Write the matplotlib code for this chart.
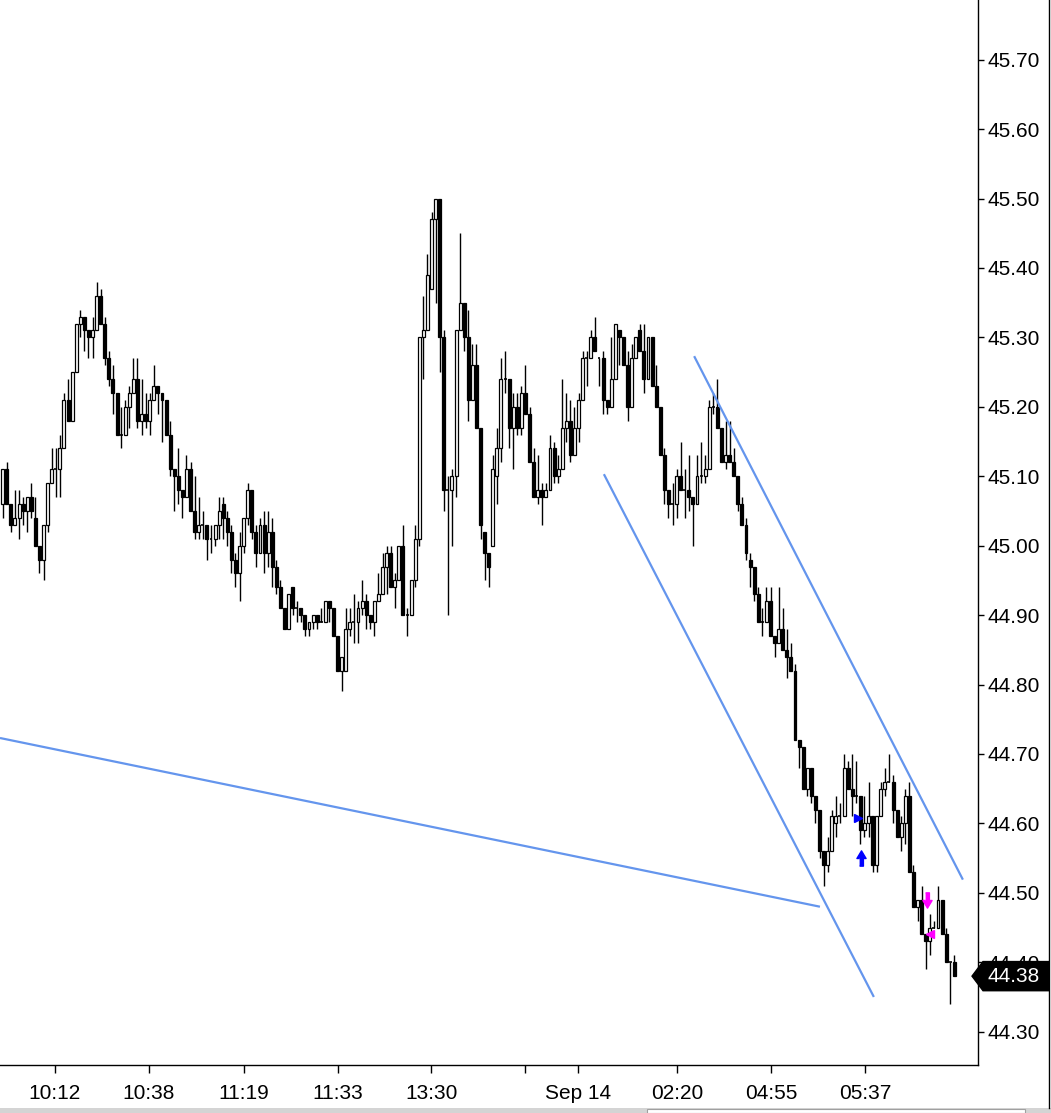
import numpy as np
import matplotlib.pyplot as plt
from matplotlib.patches import Polygon, Rectangle
from matplotlib.lines import Line2D
import matplotlib.transforms as mtransforms

plt.rcParams['font.family'] = ['Liberation Sans', 'DejaVu Sans']

# OHLC of every candle (candle 1 is the leftmost)
opens = [45.06, 45.11, 45.06, 45.03, 45.04, 45.06, 45.05, 45.07, 45.04, 45.00,
         44.98, 45.03, 45.09, 45.11, 45.11, 45.14, 45.21, 45.18, 45.25, 45.32,
         45.33, 45.31, 45.30, 45.31, 45.36, 45.32, 45.27, 45.24, 45.22, 45.16,
         45.16, 45.20, 45.22, 45.24, 45.18, 45.19, 45.18, 45.21, 45.23, 45.22,
         45.21, 45.16, 45.11, 45.10, 45.08, 45.07, 45.11, 45.05, 45.02, 45.03,
         45.03, 45.01, 45.01, 45.03, 45.06, 45.04, 45.02, 44.98, 44.96, 45.00,
         45.04, 45.08, 45.02, 44.99, 45.03, 44.99, 45.02, 44.97, 44.94, 44.91,
         44.88, 44.94, 44.91, 44.91, 44.90, 44.88, 44.89, 44.90, 44.89, 44.89,
         44.92, 44.91, 44.87, 44.82, 44.82, 44.88, 44.89, 44.89, 44.91, 44.92,
         44.90, 44.89, 44.92, 44.93, 44.97, 44.99, 44.94, 44.95, 45.00, 44.90,
         44.90, 44.95, 45.01, 45.30, 45.31, 45.37, 45.47, 45.50, 45.30, 45.08,
         45.08, 45.10, 45.31, 45.35, 45.30, 45.21, 45.26, 45.17, 45.02, 44.99,
         45.00, 45.10, 45.14, 45.24, 45.24, 45.17, 45.20, 45.17, 45.22, 45.19,
         45.12, 45.07, 45.08, 45.07, 45.08, 45.14, 45.10, 45.11, 45.17, 45.18,
         45.13, 45.17, 45.21, 45.27, 45.27, 45.30, 45.27, 45.27, 45.21, 45.20,
         45.24, 45.31, 45.30, 45.26, 45.20, 45.27, 45.31, 45.28, 45.24, 45.30,
         45.23, 45.20, 45.13, 45.08, 45.06, 45.06, 45.10, 45.08, 45.08, 45.07,
         45.06, 45.10, 45.10, 45.11, 45.20, 45.20, 45.17, 45.12, 45.13, 45.12,
         45.10, 45.06, 45.03, 44.98, 44.97, 44.93, 44.89, 44.89, 44.92, 44.87,
         44.86, 44.88, 44.85, 44.84, 44.82, 44.72, 44.71, 44.65, 44.68, 44.64,
         44.62, 44.56, 44.54, 44.56, 44.60, 44.61, 44.61, 44.68, 44.65, 44.64,
         44.64, 44.59, 44.60, 44.61, 44.54, 44.61, 44.65, 44.66, 44.66, 44.62,
         44.58, 44.60, 44.64, 44.53, 44.48, 44.49, 44.44, 44.43, 44.45, 44.45,
         44.49, 44.44, 44.40, 44.40]
highs = [45.11, 45.12, 45.06, 45.08, 45.08, 45.07, 45.07, 45.09, 45.07, 45.00,
         45.03, 45.09, 45.14, 45.14, 45.16, 45.22, 45.24, 45.25, 45.32, 45.34,
         45.33, 45.31, 45.33, 45.38, 45.37, 45.33, 45.28, 45.26, 45.22, 45.20,
         45.21, 45.23, 45.27, 45.27, 45.24, 45.22, 45.22, 45.26, 45.23, 45.22,
         45.21, 45.18, 45.11, 45.14, 45.08, 45.13, 45.12, 45.10, 45.07, 45.05,
         45.03, 45.03, 45.03, 45.07, 45.07, 45.05, 45.03, 44.99, 45.02, 45.04,
         45.09, 45.08, 45.03, 45.04, 45.05, 45.05, 45.04, 44.98, 44.95, 44.91,
         44.93, 44.94, 44.92, 44.91, 44.90, 44.89, 44.90, 44.90, 44.91, 44.92,
         44.92, 44.91, 44.87, 44.84, 44.91, 44.91, 44.93, 44.92, 44.95, 44.93,
         44.90, 44.92, 44.96, 44.99, 45.00, 45.00, 44.96, 45.00, 45.03, 44.91,
         44.95, 45.03, 45.30, 45.36, 45.42, 45.48, 45.50, 45.50, 45.31, 45.10,
         45.11, 45.31, 45.45, 45.35, 45.34, 45.29, 45.29, 45.17, 45.02, 44.99,
         45.13, 45.17, 45.27, 45.28, 45.24, 45.22, 45.22, 45.23, 45.26, 45.20,
         45.14, 45.13, 45.09, 45.09, 45.16, 45.15, 45.13, 45.24, 45.22, 45.21,
         45.20, 45.22, 45.28, 45.28, 45.31, 45.33, 45.27, 45.28, 45.21, 45.30,
         45.32, 45.31, 45.30, 45.28, 45.29, 45.30, 45.32, 45.32, 45.30, 45.30,
         45.26, 45.20, 45.14, 45.08, 45.09, 45.11, 45.15, 45.11, 45.13, 45.07,
         45.13, 45.15, 45.13, 45.21, 45.22, 45.24, 45.17, 45.18, 45.18, 45.14,
         45.10, 45.07, 45.04, 44.99, 44.97, 44.94, 44.91, 44.94, 44.94, 44.87,
         44.94, 44.91, 44.88, 44.86, 44.83, 44.72, 44.71, 44.68, 44.68, 44.64,
         44.62, 44.56, 44.58, 44.62, 44.64, 44.63, 44.70, 44.69, 44.70, 44.69,
         44.64, 44.64, 44.66, 44.61, 44.61, 44.66, 44.68, 44.70, 44.67, 44.62,
         44.61, 44.65, 44.66, 44.54, 44.49, 44.51, 44.44, 44.47, 44.46, 44.51,
         44.49, 44.45, 44.40, 44.41]
lows = [45.04, 45.06, 45.02, 45.03, 45.01, 45.03, 45.02, 45.04, 45.00, 44.96,
        44.95, 45.02, 45.09, 45.07, 45.07, 45.14, 45.18, 45.18, 45.25, 45.30,
        45.28, 45.27, 45.27, 45.31, 45.32, 45.26, 45.23, 45.19, 45.16, 45.14,
        45.16, 45.17, 45.22, 45.17, 45.16, 45.17, 45.16, 45.21, 45.19, 45.15,
        45.16, 45.10, 45.05, 45.06, 45.04, 45.07, 45.05, 45.01, 45.01, 45.01,
        44.98, 44.99, 45.00, 45.01, 45.01, 45.00, 44.96, 44.94, 44.92, 44.99,
        45.03, 45.01, 44.97, 44.99, 44.96, 44.97, 44.94, 44.93, 44.91, 44.88,
        44.88, 44.90, 44.89, 44.89, 44.87, 44.87, 44.88, 44.88, 44.89, 44.89,
        44.89, 44.87, 44.82, 44.79, 44.82, 44.87, 44.86, 44.86, 44.90, 44.88,
        44.88, 44.87, 44.92, 44.93, 44.93, 44.94, 44.91, 44.95, 44.90, 44.87,
        44.90, 44.94, 45.00, 45.24, 45.31, 45.37, 45.35, 45.25, 45.05, 44.90,
        45.00, 45.07, 45.31, 45.28, 45.18, 45.21, 45.17, 45.01, 44.95, 44.94,
        45.00, 45.06, 45.12, 45.22, 45.14, 45.11, 45.16, 45.16, 45.19, 45.12,
        45.07, 45.06, 45.03, 45.07, 45.08, 45.09, 45.09, 45.11, 45.15, 45.12,
        45.13, 45.15, 45.21, 45.23, 45.27, 45.28, 45.23, 45.19, 45.19, 45.20,
        45.24, 45.26, 45.26, 45.18, 45.20, 45.27, 45.28, 45.22, 45.24, 45.23,
        45.20, 45.13, 45.06, 45.04, 45.03, 45.04, 45.08, 45.04, 45.05, 45.00,
        45.06, 45.09, 45.09, 45.11, 45.19, 45.17, 45.12, 45.11, 45.12, 45.10,
        45.05, 45.03, 44.98, 44.94, 44.92, 44.89, 44.87, 44.89, 44.87, 44.84,
        44.86, 44.85, 44.81, 44.82, 44.72, 44.68, 44.65, 44.64, 44.63, 44.60,
        44.55, 44.51, 44.53, 44.56, 44.58, 44.60, 44.61, 44.65, 44.61, 44.63,
        44.57, 44.58, 44.58, 44.53, 44.53, 44.61, 44.64, 44.66, 44.60, 44.58,
        44.56, 44.57, 44.53, 44.48, 44.46, 44.44, 44.39, 44.41, 44.45, 44.45,
        44.44, 44.40, 44.34, 44.38]
closes = [45.11, 45.06, 45.03, 45.04, 45.06, 45.05, 45.07, 45.05, 45.00, 44.98,
          45.03, 45.09, 45.11, 45.11, 45.14, 45.21, 45.18, 45.25, 45.32, 45.33,
          45.31, 45.30, 45.31, 45.36, 45.32, 45.27, 45.24, 45.22, 45.16, 45.16,
          45.20, 45.22, 45.24, 45.18, 45.19, 45.18, 45.21, 45.23, 45.22, 45.21,
          45.16, 45.11, 45.10, 45.08, 45.07, 45.11, 45.05, 45.02, 45.03, 45.03,
          45.01, 45.01, 45.03, 45.05, 45.04, 45.02, 44.98, 44.96, 45.00, 45.04,
          45.08, 45.02, 44.99, 45.03, 44.99, 45.02, 44.97, 44.94, 44.91, 44.88,
          44.93, 44.91, 44.91, 44.90, 44.88, 44.89, 44.90, 44.89, 44.89, 44.92,
          44.91, 44.87, 44.82, 44.84, 44.88, 44.89, 44.89, 44.91, 44.92, 44.90,
          44.89, 44.92, 44.93, 44.97, 44.99, 44.94, 44.95, 45.00, 44.90, 44.90,
          44.95, 45.01, 45.30, 45.31, 45.39, 45.47, 45.50, 45.30, 45.08, 45.08,
          45.10, 45.31, 45.35, 45.30, 45.21, 45.26, 45.17, 45.03, 44.99, 44.97,
          45.11, 45.14, 45.24, 45.24, 45.17, 45.20, 45.17, 45.22, 45.19, 45.12,
          45.07, 45.08, 45.07, 45.08, 45.14, 45.10, 45.11, 45.17, 45.18, 45.13,
          45.17, 45.21, 45.27, 45.27, 45.30, 45.28, 45.27, 45.21, 45.20, 45.24,
          45.32, 45.30, 45.26, 45.20, 45.27, 45.30, 45.28, 45.24, 45.30, 45.23,
          45.20, 45.13, 45.08, 45.06, 45.06, 45.10, 45.08, 45.08, 45.07, 45.06,
          45.10, 45.10, 45.11, 45.20, 45.20, 45.17, 45.12, 45.13, 45.12, 45.10,
          45.06, 45.03, 44.99, 44.97, 44.93, 44.89, 44.89, 44.92, 44.87, 44.86,
          44.88, 44.85, 44.84, 44.82, 44.72, 44.71, 44.65, 44.68, 44.64, 44.62,
          44.56, 44.54, 44.56, 44.61, 44.61, 44.61, 44.68, 44.65, 44.64, 44.64,
          44.59, 44.60, 44.61, 44.54, 44.61, 44.65, 44.66, 44.66, 44.62, 44.58,
          44.60, 44.64, 44.53, 44.48, 44.49, 44.44, 44.43, 44.45, 44.45, 44.49,
          44.44, 44.40, 44.40, 44.38]

# time labels and the candle they sit under
tick_pos = [13.8, 36.8, 60.0, 83.0, 105.9, 128.9, 141.9, 166.1, 189.1, 212.1]
tick_labels = ['10:12', '10:38', '11:19', '11:33', '13:30', '', 'Sep 14',
               '02:20', '04:55', '05:37']

# hand drawn trend lines: candle position and price at both ends
line_x = [[0.34, 201.1], [148.2, 214.3], [170.3, 236.1]]
line_y = [[44.723, 44.480], [45.103, 44.350], [45.273, 44.519]]

# signal markers
buy_arrow = (211.1, 44.55)
buy_tri = (210.5, 44.608)
sell_arrow = (227.3, 44.49)
sell_tri = (228.0, 44.44)

o = np.array(opens)
h = np.array(highs)
l = np.array(lows)
c = np.array(closes)
x = np.arange(1, len(o) + 1)

W, H = 1051, 1113
fig = plt.figure(figsize=(W / 100, H / 100), dpi=100)
ax = fig.add_axes([0, 48 / H, 978 / W, 1065 / H])

bw = 0.72
# wicks
ax.vlines(x, l, h, color='black', lw=1.0, zorder=2)

up = c > o
down = c < o
flat = c == o
ax.bar(x[up], (c - o)[up], bottom=o[up], width=bw, facecolor='white',
       edgecolor='black', linewidth=0.9, zorder=3)
ax.bar(x[down], (o - c)[down], bottom=c[down], width=bw, facecolor='black',
       edgecolor='black', linewidth=0.9, zorder=3)
ax.hlines(c[flat], x[flat] - bw / 2, x[flat] + bw / 2, color='black', lw=1.2, zorder=3)

# trend lines
for lx, ly in zip(line_x, line_y):
    ax.plot(lx, ly, color='#6495ED', lw=1.6, zorder=4, solid_capstyle='butt')

# arrows as custom markers
up_arrow = [(-0.25, -1), (0.25, -1), (0.25, 0), (0.6, 0), (0, 1), (-0.6, 0), (-0.25, 0)]
down_arrow = [(px, -py) for px, py in up_arrow]
ax.plot(*buy_arrow, marker=up_arrow, ms=11, color='#0000FF', mec='#0000FF', zorder=5)
ax.plot(*buy_tri, marker='>', ms=5.5, color='#0000FF', mec='#0000FF', zorder=5)
ax.plot(*sell_arrow, marker=down_arrow, ms=11, color='#FF00FF', mec='#FF00FF', zorder=5)
ax.plot(*sell_tri, marker='<', ms=5.5, color='#FF00FF', mec='#FF00FF', zorder=5)

ax.set_xlim(0.34, 239.8)
ax.set_ylim(44.252, 45.786)

# axes look
for s in ['left', 'top']:
    ax.spines[s].set_visible(False)
ax.spines['right'].set_linewidth(1.0)
ax.spines['bottom'].set_linewidth(1.0)

ax.yaxis.tick_right()
yt = np.round(np.arange(44.30, 45.701, 0.10), 2)
ax.set_yticks(yt)
ax.set_yticklabels(['%.2f' % v for v in yt])
ax.tick_params(axis='y', direction='out', length=4, width=1, pad=3, labelsize=15,
               colors='black')
ax.set_xticks(tick_pos)
ax.set_xticklabels(tick_labels)
ax.tick_params(axis='x', direction='out', length=6, width=1, pad=8, labelsize=15,
               colors='black')

# last price tag
last = c[-1]
tr = mtransforms.blended_transform_factory(ax.transAxes, ax.transData)
hh = 0.021
tag = Polygon([(972 / 978, last), (983 / 978, last + hh), (1049 / 978, last + hh),
               (1049 / 978, last - hh), (983 / 978, last - hh)],
              closed=True, transform=tr, facecolor='black', edgecolor='black',
              clip_on=False, zorder=6)
ax.add_patch(tag)
ax.text(987 / 978, last, '%.2f' % last, transform=tr, color='white', fontsize=15,
        va='center', ha='left', zorder=7, clip_on=False)

# window frame bits around the chart
fig.add_artist(Line2D([1049 / W, 1049 / W], [5 / H, 1], color='black', lw=1.0))
fig.add_artist(Rectangle((0, 0), 1, 5 / H, facecolor='#d4d4d4', edgecolor='none'))
fig.add_artist(Rectangle((647 / W, 0), 378 / W, 4 / H, facecolor='white',
                         edgecolor='#a0a0a0', lw=0.8))

plt.savefig('out.png', dpi=100)
